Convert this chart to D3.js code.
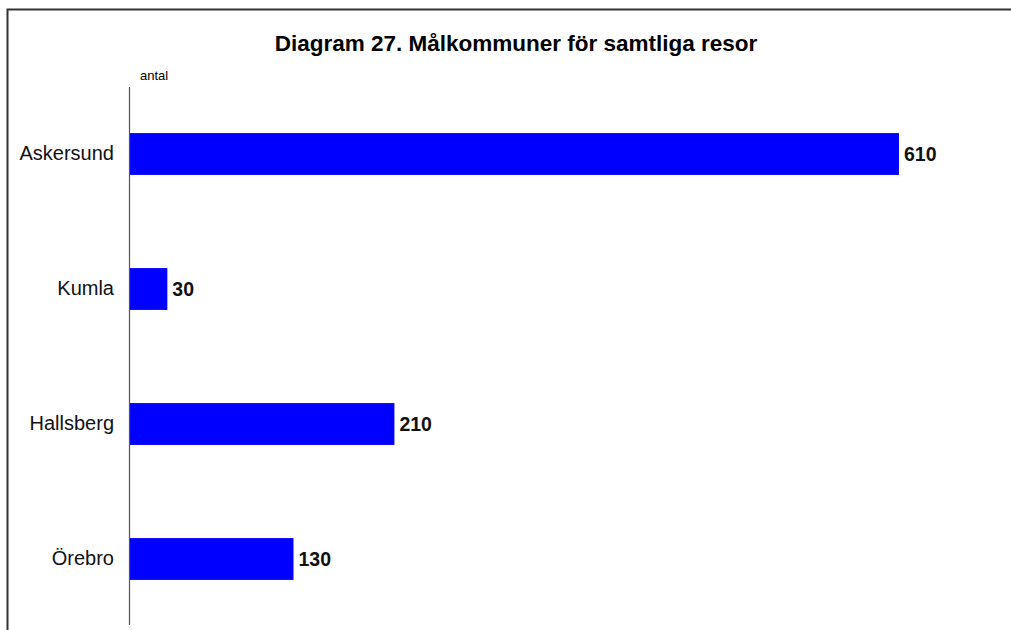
<!DOCTYPE html>
<html>
<head>
<meta charset="utf-8">
<script src="https://cdn.jsdelivr.net/npm/d3@7"></script>
<style>
  body { margin: 0; background: #fff; }
  svg { display: block; font-family: "Liberation Sans", Arial, sans-serif; }
</style>
</head>
<body>
<svg id="chart" width="1011" height="630"></svg>
<script>
// Destination municipalities and number of trips
const categories = ["Askersund", "Kumla", "Hallsberg", "Örebro"];
const values = [610, 30, 210, 130];
const titleText = "Diagram 27. Målkommuner för samtliga resor";
const unitText = "antal";

const svg = d3.select("#chart");

// outer frame (left and top edges)
svg.append("path")
  .attr("d", "M7.5,630 V9.5 H1011")
  .attr("fill", "none")
  .attr("stroke", "#333")
  .attr("stroke-width", 2);

const x0 = 129.5;
const x = d3.scaleLinear().domain([0, 610]).range([x0, 899]);
const y = d3.scaleBand().domain(categories)
  .range([86.5, 626.5])
  .paddingInner(0.69)
  .paddingOuter(0.345);

// title
svg.append("text")
  .attr("x", 516).attr("y", 51)
  .attr("text-anchor", "middle")
  .attr("font-size", 22.5).attr("font-weight", "bold")
  .attr("fill", "#000")
  .text(titleText);

svg.append("text")
  .attr("x", 140).attr("y", 80)
  .attr("font-size", 13)
  .attr("fill", "#000")
  .text(unitText);

// bars
svg.append("g").selectAll("rect")
  .data(categories)
  .join("rect")
  .attr("x", x0)
  .attr("y", d => y(d))
  .attr("width", (d, i) => x(values[i]) - x0)
  .attr("height", y.bandwidth())
  .attr("fill", "#0000ff");

// value labels
svg.append("g").selectAll("text")
  .data(categories)
  .join("text")
  .attr("x", (d, i) => x(values[i]) + 5)
  .attr("y", d => y(d) + y.bandwidth() / 2)
  .attr("dy", "0.36em")
  .attr("font-size", 19.5).attr("font-weight", "bold")
  .attr("fill", "#111")
  .text((d, i) => values[i]);

// category axis
const axis = d3.axisLeft(y).tickSize(0).tickPadding(15.5);
const gAxis = svg.append("g")
  .attr("transform", `translate(${x0},0)`)
  .call(axis);
gAxis.select(".domain").remove();
gAxis.selectAll("text")
  .attr("font-size", 20)
  .attr("font-family", "\"Liberation Sans\", Arial, sans-serif")
  .attr("fill", "#111");

svg.append("line")
  .attr("x1", x0).attr("x2", x0)
  .attr("y1", 87).attr("y2", 625)
  .attr("stroke", "#555")
  .attr("stroke-width", 1.2);
</script>
</body>
</html>
